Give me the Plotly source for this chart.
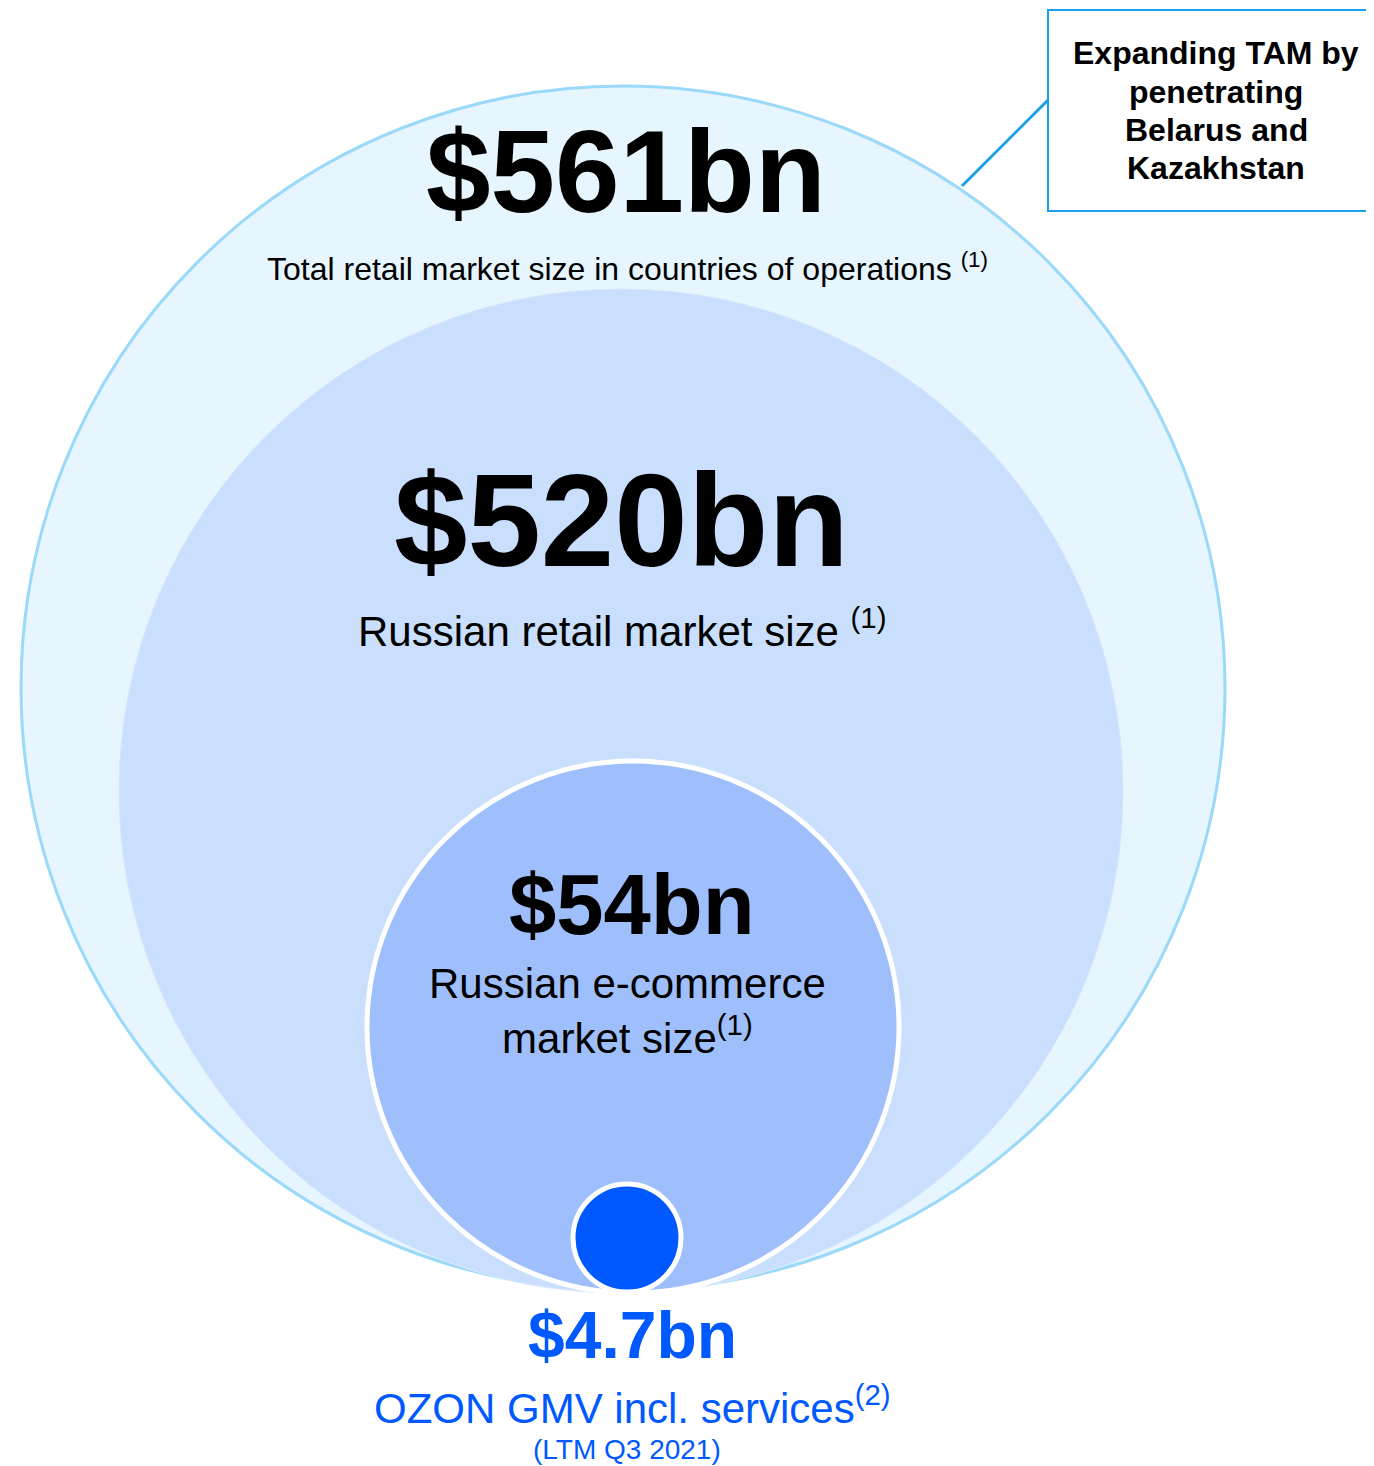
import plotly.graph_objects as go

# ---- data ----
values = ["$561bn", "$520bn", "$54bn", "$4.7bn"]
labels = [
    "Total retail market size in countries of operations <sup>(1)</sup>",
    "Russian retail market size <sup>(1)</sup>",
    "Russian e-commerce<br>market size<sup>(1)</sup>",
    "OZON GMV incl. services<sup>(2)</sup>",
]
period_note = "(LTM Q3 2021)"
callout_lines = ["Expanding TAM by", "penetrating", "Belarus and", "Kazakhstan"]

# ---- geometry / style (pixel space of the page) ----
W, H = 1374, 1466
OFF = 8  # page body margin; axis ranges shifted so data coords == page pixels
circles = [  # (cx, cy, r, fill, line colour, line width)
    (623, 688, 602, "#E6F5FE", "#9BD9FA", 3),
    (621, 791, 502, "#C9DFFD", "#D6E8FD", 1),
    (633, 1027, 266, "#9EBFFC", "#FFFFFF", 5),
    (627, 1238, 54, "#0059FF", "#FFFFFF", 5),
]
callout_y = [53, 92, 130, 168]
FONT = "Liberation Sans, Arial, sans-serif"
BLUE = "#0059FF"

fig = go.Figure()
fig.add_trace(go.Scatter(x=[OFF, W + OFF], y=[OFF, H + OFF], mode="markers",
                         marker=dict(opacity=0), hoverinfo="skip", showlegend=False))

shapes = []
for cx, cy, r, fill, lc, lw in circles:
    shapes.append(dict(type="circle", xref="x", yref="y",
                       x0=cx - r, x1=cx + r, y0=cy - r, y1=cy + r,
                       fillcolor=fill, line=dict(color=lc, width=lw), layer="below"))
# callout box and connector
shapes.append(dict(type="line", xref="x", yref="y", x0=962, y0=186, x1=1048, y1=100,
                   line=dict(color="#1AA0EC", width=3)))
shapes.append(dict(type="rect", xref="x", yref="y", x0=1048, y0=10, x1=1400, y1=211,
                   fillcolor="#FFFFFF", line=dict(color="#1AA0EC", width=2)))

ann = []
def add(text, x, y, size, color="#000000", bold=False):
    t = f"<b>{text}</b>" if bold else text
    ann.append(dict(text=t, x=x, y=y, xref="x", yref="y", showarrow=False,
                    xanchor="center", yanchor="middle",
                    font=dict(family=FONT, size=size, color=color)))

add(values[0], 626, 172, 116, bold=True)
add(labels[0], 627, 267, 32)
add(values[1], 621, 520, 132, bold=True)
add(labels[1], 622, 628, 42)
add(values[2], 632, 904, 85, bold=True)
add(labels[2], 627, 1011, 42)
add(values[3], 632, 1335, 66, color=BLUE, bold=True)
add(labels[3], 632, 1405, 42, color=BLUE)
add(period_note, 627, 1449, 28, color=BLUE)
for line, yy in zip(callout_lines, callout_y):
    add(line, 1216, yy, 32, bold=True)

fig.update_layout(
    width=W, height=H, margin=dict(l=0, r=0, t=0, b=0),
    paper_bgcolor="#FFFFFF", plot_bgcolor="#FFFFFF",
    xaxis=dict(range=[OFF, W + OFF], visible=False, fixedrange=True),
    yaxis=dict(range=[H + OFF, OFF], visible=False, fixedrange=True),
    shapes=shapes, annotations=ann, showlegend=False,
)
fig.write_html("out.html")
